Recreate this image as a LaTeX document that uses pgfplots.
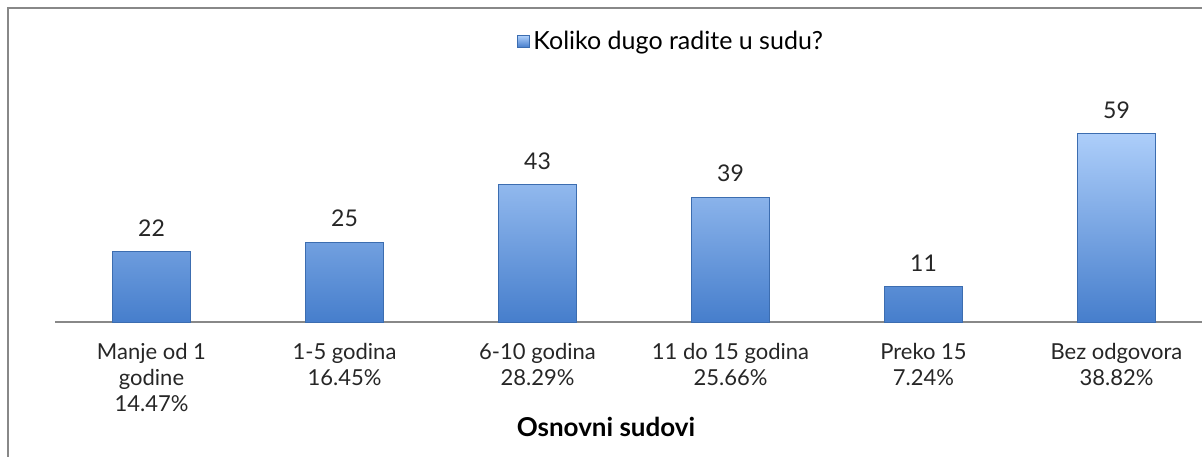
\documentclass[border=0pt]{standalone}
\usepackage{fontspec}
\setmainfont{Lato}
\usepackage{pgfplots}
\pgfplotsset{compat=1.18}
\definecolor{barTop}{HTML}{ADCEFA}
\definecolor{barBot}{HTML}{467ECC}
\definecolor{barEdge}{HTML}{3C6DB0}
\definecolor{frameGray}{HTML}{888888}
\begin{document}
\begin{tikzpicture}
\useasboundingbox (0,0) rectangle (601pt,228pt);
\draw[frameGray, line width=1.1pt] (4pt,-10pt) -- (4pt,224pt) -- (620pt,224pt);
\begin{axis}[
  at={(27.5pt,67pt)}, anchor=south west,
  scale only axis,
  width=573.5pt, height=111pt,
  xmin=-0.5, xmax=5.443,
  ymin=0, ymax=69.4,
  axis x line=bottom,
  axis y line=none,
  axis line style={-, draw=frameGray, line width=1.2pt},
  xtick=data,
  xticklabels={{Manje od 1\\godine\\14.47\%},{1-5 godina\\16.45\%},{6-10 godina\\28.29\%},{11 do 15 godina\\25.66\%},{Preko 15\\7.24\%},{Bez odgovora\\38.82\%}},
  xticklabel style={align=center, font=\fontsize{11}{13}\selectfont, text=black!85, yshift=-7pt},
  major tick length=0pt,
  xlabel={\textbf{Osnovni sudovi}},
  xlabel style={at={(axis description cs:0.4804,-0.473)}, anchor=center, font=\fontsize{13}{14}\selectfont},
  ybar, bar width=39pt,
  nodes near coords,
  nodes near coords style={font=\fontsize{11.5}{13}\selectfont, yshift=4pt, text=black!85},
  /pgf/number format/assume math mode=true,
  legend style={at={(axis description cs:0.538,1.261)}, anchor=center, draw=none, fill=none, font=\fontsize{12.5}{14}\selectfont},
  legend image code/.code={\draw[#1] (0cm,-0.09cm) rectangle (0.2cm,0.11cm);},
  clip=false,
]
\addplot[draw=barEdge, line width=0.4pt, top color=barTop, bottom color=barBot]
  coordinates {(0,22) (1,25) (2,43) (3,39) (4,11) (5,59)};
\addlegendentry{Koliko dugo radite u sudu?}
\end{axis}
\end{tikzpicture}
\end{document}
